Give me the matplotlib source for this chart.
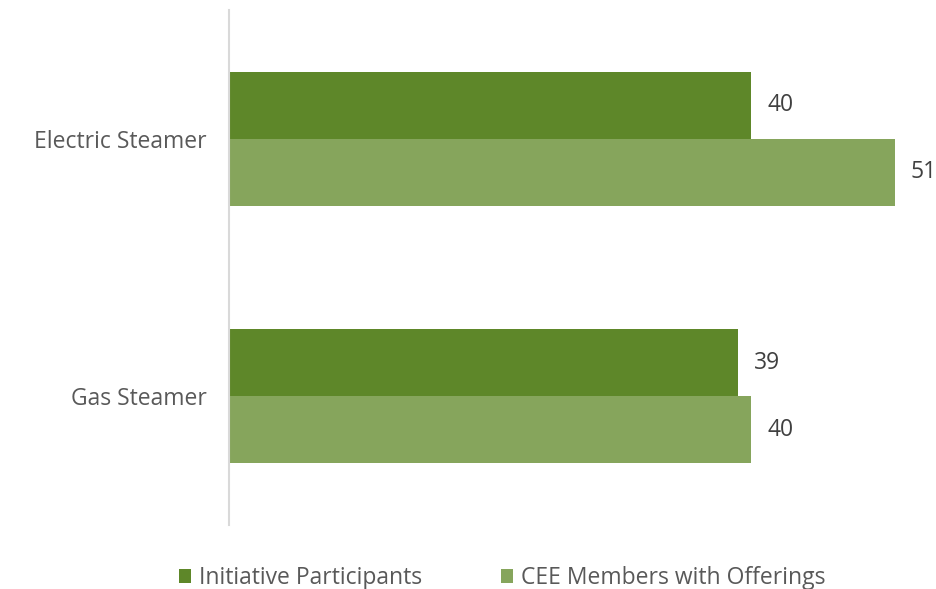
import matplotlib.pyplot as plt
import numpy as np

categories = ["Electric Steamer", "Gas Steamer"]
participants = [40, 39]
cee_members = [51, 40]
series_names = ["Initiative Participants", "CEE Members with Offerings"]
colors = ["#5E8729", "#86A55C"]

plt.rcParams['font.family'] = ['Open Sans', 'DejaVu Sans']

fig = plt.figure(figsize=(9.37, 5.89), dpi=100)
ax = fig.add_axes([0.2444, 0.1087, 0.7246, 0.8743])

y = np.arange(len(categories))
h = 0.26
b1 = ax.barh(y - h / 2, participants, height=h, color=colors[0], label=series_names[0])
b2 = ax.barh(y + h / 2, cee_members, height=h, color=colors[1], label=series_names[1])

# value labels to the right of each bar
for bars in (b1, b2):
    for bar in bars:
        w = bar.get_width()
        ax.annotate(f"{w:g}", (w, bar.get_y() + bar.get_height() / 2),
                    xytext=(16, 0), textcoords="offset pixels",
                    ha="left", va="center", fontsize=16.5, color="#404040")

ax.set_ylim(1.5, -0.5)
ax.set_xlim(0, 52)
ax.set_yticks(y)
ax.set_yticklabels(categories, fontsize=16.5, color="#595959")
ax.tick_params(axis="y", length=0, pad=16)
ax.set_xticks([])
for s in ["top", "right", "bottom"]:
    ax.spines[s].set_visible(False)
ax.spines["left"].set_color("#D9D9D9")
ax.spines["left"].set_linewidth(1.5)

fig.legend(handles=[b1, b2], loc="center", bbox_to_anchor=(0.536, 0.018),
           ncol=2, frameon=False, fontsize=16.5, labelcolor="#595959",
           handlelength=0.55, handleheight=0.55, handletextpad=0.35, columnspacing=3.4)

fig.savefig("out.png", dpi=100)
